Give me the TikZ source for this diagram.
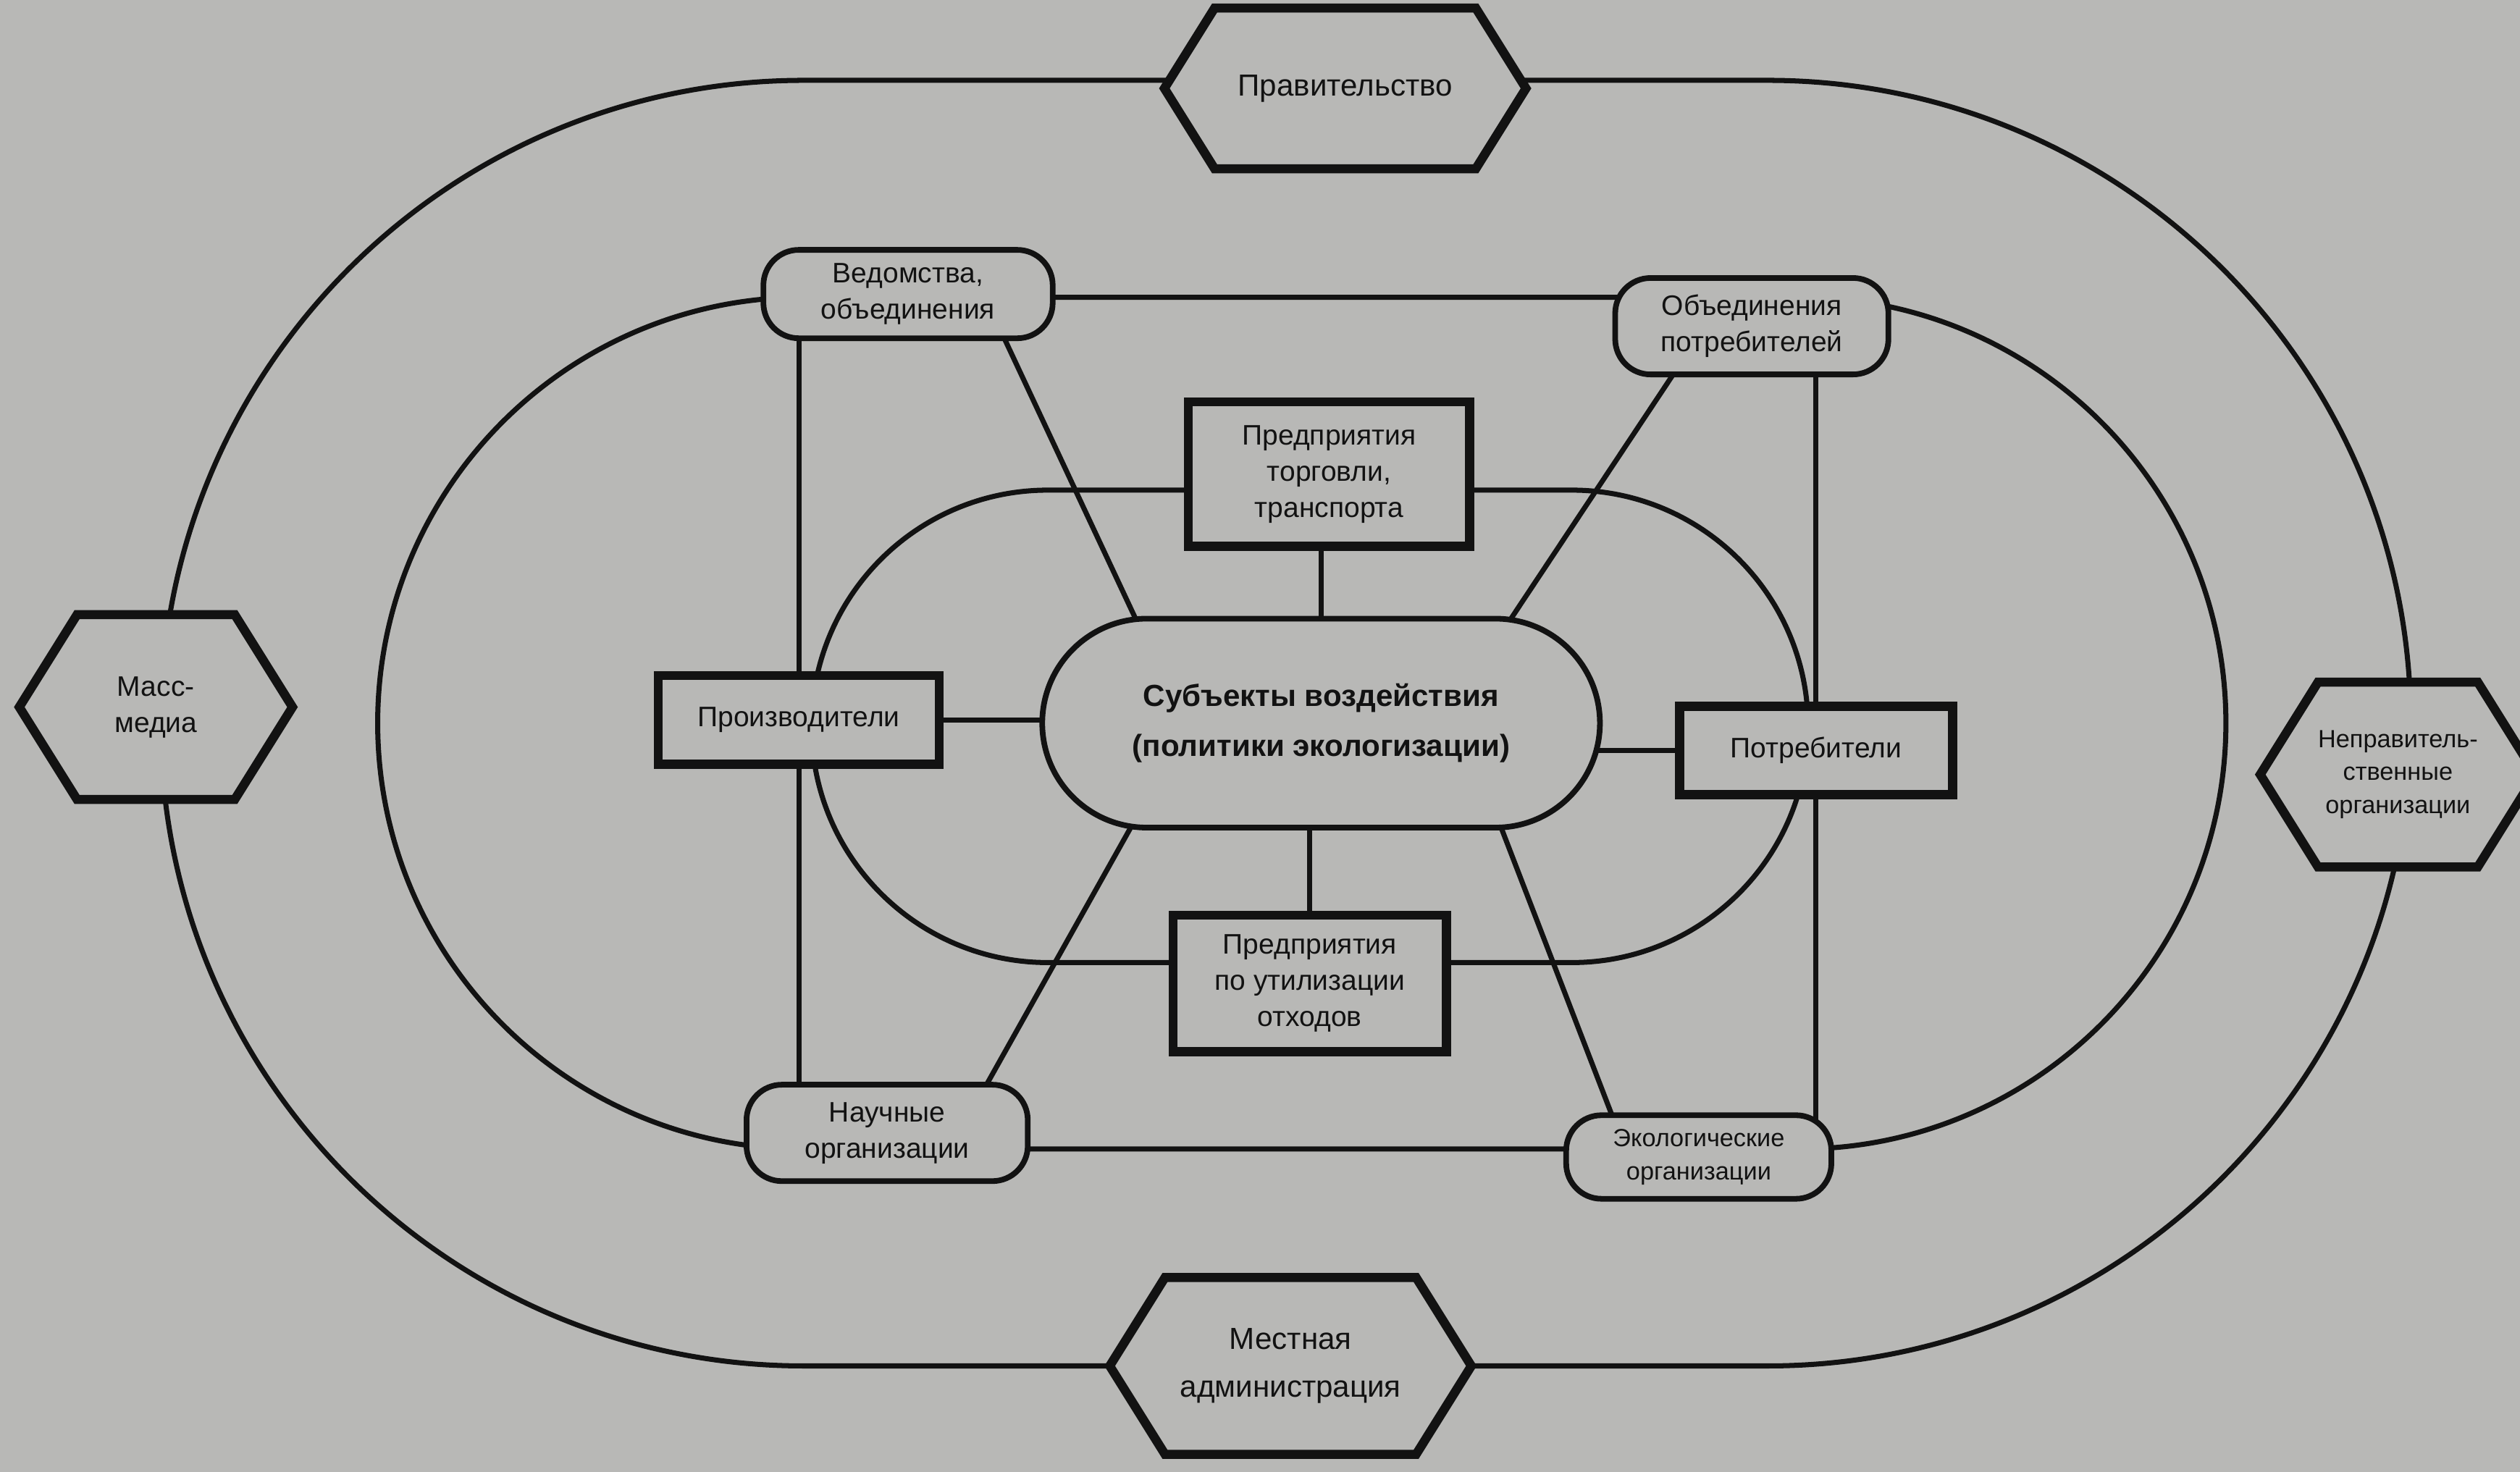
\documentclass[tikz,border=0pt]{standalone}
\usepackage{fontspec}
\setmainfont{Liberation Sans}
\usetikzlibrary{shapes.symbols,shapes.misc,calc}
\pgfdeclarelayer{paper}
\pgfdeclarelayer{lines}
\pgfsetlayers{paper,lines,main}
\definecolor{papercol}{RGB}{184,184,182}
\definecolor{ink}{RGB}{18,18,18}
\begin{document}
\begin{tikzpicture}[x=0.5mm,y=-0.5mm,
  ring/.style={draw=ink,line width=4.5pt},
  link/.style={draw=ink,line width=4.5pt},
  hexa/.style={signal,signal to=west and east,signal pointer angle=116,draw=ink,line width=8pt,fill=papercol,align=center,inner sep=0pt,text=ink},
  rnode/.style={rectangle,rounded corners=11mm,draw=ink,line width=5pt,fill=papercol,align=center,inner sep=0pt,text=ink},
  rect/.style={rectangle,draw=ink,line width=8pt,fill=papercol,align=center,inner sep=0pt,text=ink},
  fbig/.style={font=\fontsize{27pt}{42pt}\selectfont},
  fmid/.style={font=\fontsize{25pt}{32pt}\selectfont},
  fsm/.style={font=\fontsize{22pt}{29pt}\selectfont}]
\path[use as bounding box] (0,0) rectangle (1568,916);
\begin{pgfonlayer}{paper}
\fill[papercol] (0,0) rectangle (1568,916);
\end{pgfonlayer}

% outer ring nodes
\node[hexa,fbig,minimum width=112.5mm,minimum height=50mm] (Prav) at (837,55) {Правительство};
\node[hexa,fmid,minimum width=85mm,minimum height=57.5mm] (Mass) at (97,440) {Масс-\\медиа};
\node[hexa,fsm,minimum width=72.5mm,minimum height=57.5mm] (Nepr) at (1492,482) {Неправитель-\\ственные\\организации};
\node[hexa,fbig,minimum width=112.5mm,minimum height=55mm] (Mest) at (803,850) {Местная\\администрация};

% middle ring nodes
\node[rnode,fmid,minimum width=90mm,minimum height=27.5mm] (Ved) at (565,183) {Ведомства,\\объединения};
\node[rnode,fmid,minimum width=85mm,minimum height=30mm] (Obp) at (1090,203) {Объединения\\потребителей};
\node[rnode,fmid,minimum width=87.5mm,minimum height=30mm] (Nauch) at (552,705) {Научные\\организации};
\node[rnode,fsm,minimum width=82.5mm,minimum height=26mm] (Ekol) at (1057,720) {Экологические\\организации};

% inner ring nodes
\node[rect,fmid,minimum width=87.5mm,minimum height=45mm] (Torg) at (827,295) {Предприятия\\торговли,\\транспорта};
\node[rect,fmid,minimum width=87.5mm,minimum height=27.5mm] (Proizv) at (497,448) {Производители};
\node[rect,fmid,minimum width=85mm,minimum height=27.5mm] (Potr) at (1130,467) {Потребители};
\node[rect,fmid,minimum width=85mm,minimum height=42.5mm] (Util) at (815,612) {Предприятия\\по утилизации\\отходов};

% centre
\node[rounded rectangle,draw=ink,line width=5pt,fill=papercol,align=center,inner sep=0pt,text=ink,
      font=\bfseries\fontsize{27pt}{44pt}\selectfont,minimum width=173.5mm,minimum height=65mm] (Subj) at (822,450)
      {Субъекты воздействия\\(политики экологизации)};

\begin{pgfonlayer}{lines}
\draw[ring,rounded corners=200mm] (100,50) rectangle (1500,850);
\draw[ring,rounded corners=132.5mm] (235,185) rectangle (1385,715);
\draw[ring,rounded corners=73.5mm] (505,305) rectangle (1125,599);
\draw[link] (Ved.center -| Proizv.center) -- (Nauch.center -| Proizv.center);
\draw[link] (Obp.center -| Potr.center) -- (Ekol.center -| Potr.center);
\draw[link] ($(Ved.center)+(47,0)$) -- ($(Subj.center)+(-85,0)$);
\draw[link] ($(Obp.center)+(-29,0)$) -- ($(Subj.center)+(75,0)$);
\draw[link] ($(Nauch.center)+(45,0)$) -- ($(Subj.center)+(-82,0)$);
\draw[link] ($(Ekol.center)+(-44,0)$) -- ($(Subj.center)+(87,0)$);
\draw[link] (Subj.center |- Torg.center) -- (Subj.center);
\draw[link] (Util.center) -- (Util.center |- Subj.center);
\draw[link] (Proizv.center) -- (Subj.center |- Proizv.center);
\draw[link] (Subj.center |- Potr.center) -- (Potr.center);
\end{pgfonlayer}
\end{tikzpicture}
\end{document}
